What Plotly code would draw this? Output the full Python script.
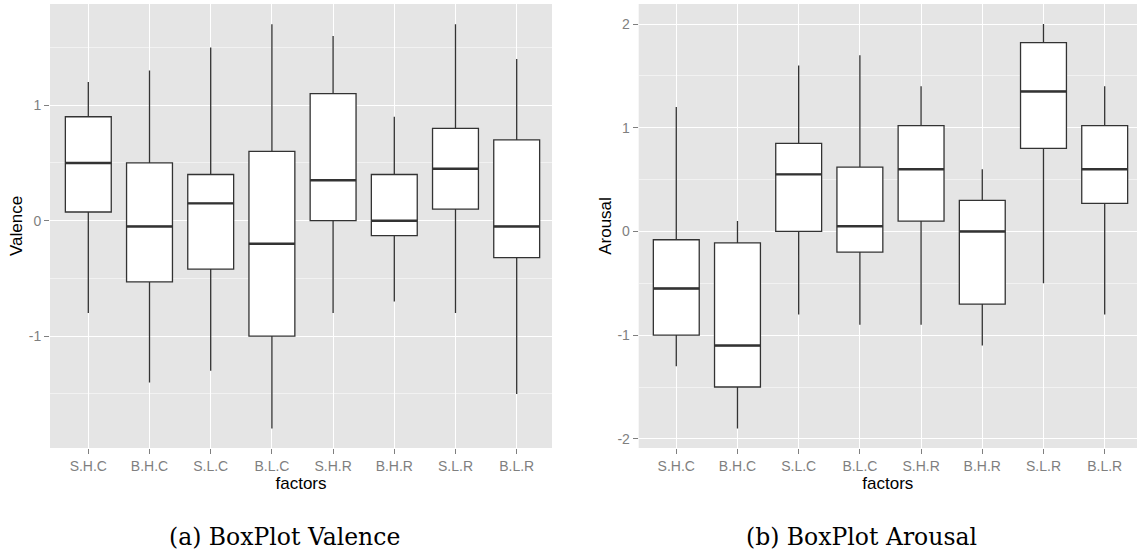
import plotly.graph_objects as go

categories = ["S.H.C", "B.H.C", "S.L.C", "B.L.C", "S.H.R", "B.H.R", "S.L.R", "B.L.R"]

val_low = [-0.8, -1.4, -1.3, -1.8, -0.8, -0.7, -0.8, -1.5]
val_q1 = [0.075, -0.53, -0.42, -1.0, 0.0, -0.13, 0.1, -0.32]
val_med = [0.5, -0.05, 0.15, -0.2, 0.35, 0.0, 0.45, -0.05]
val_q3 = [0.9, 0.5, 0.4, 0.6, 1.1, 0.4, 0.8, 0.7]
val_high = [1.2, 1.3, 1.5, 1.7, 1.6, 0.9, 1.7, 1.4]
val_tickvals = [-1, 0, 1]
val_ticktext = ["-1", "0", "1"]

aro_low = [-1.3, -1.9, -0.8, -0.9, -0.9, -1.1, -0.5, -0.8]
aro_q1 = [-1.0, -1.5, 0.0, -0.2, 0.1, -0.7, 0.8, 0.27]
aro_med = [-0.55, -1.1, 0.55, 0.05, 0.6, 0.0, 1.35, 0.6]
aro_q3 = [-0.08, -0.11, 0.85, 0.62, 1.02, 0.3, 1.82, 1.02]
aro_high = [1.2, 0.1, 1.6, 1.7, 1.4, 0.6, 2.0, 1.4]
aro_tickvals = [-2, -1, 0, 1, 2]
aro_ticktext = ["-2", "-1", "0", "1", "2"]

positions = list(range(len(categories)))
BOX_W = 0.75
LINE = "#333333"
GREY = "#7f7f7f"
SANS = "Liberation Sans, Arial"
W, H = 1137, 551

fig = go.Figure()


def add_panel(xa, ya, low, q1, med, q3, high):
    fig.add_trace(go.Box(
        x=positions, lowerfence=low, q1=q1, median=med, q3=q3, upperfence=high,
        width=BOX_W, whiskerwidth=0, fillcolor="white",
        line=dict(color=LINE, width=1.3), boxpoints=False,
        xaxis=xa, yaxis=ya, showlegend=False, hoverinfo="skip"))
    mx, my = [], []
    for p, m in zip(positions, med):
        mx += [p - BOX_W / 2, p + BOX_W / 2, None]
        my += [m, m, None]
    fig.add_trace(go.Scatter(x=mx, y=my, mode="lines", line=dict(color=LINE, width=2.4),
                             xaxis=xa, yaxis=ya, showlegend=False, hoverinfo="skip"))


add_panel("x", "y", val_low, val_q1, val_med, val_q3, val_high)
add_panel("x2", "y2", aro_low, aro_q1, aro_med, aro_q3, aro_high)

ytop = 1 - 4 / H
ybot = 1 - 448 / H

xcommon = dict(tickmode="array", tickvals=positions, ticktext=categories,
               showgrid=True, gridcolor="white", gridwidth=1, zeroline=False,
               ticks="outside", ticklen=5, tickcolor=GREY, tickwidth=1,
               tickfont=dict(family=SANS, size=14, color=GREY),
               title=dict(text="factors", font=dict(family=SANS, size=17, color="black"), standoff=2),
               showline=False, fixedrange=True, automargin=False)
ycommon = dict(tickmode="array", showgrid=True, gridcolor="white", gridwidth=1,
               zeroline=False, ticks="outside", ticklen=5, tickcolor=GREY, tickwidth=1,
               tickfont=dict(family=SANS, size=14, color=GREY),
               minor=dict(tickmode="linear", dtick=0.5, tick0=0, showgrid=True,
                          gridcolor="#f2f2f2", gridwidth=0.6, ticks=""),
               showline=False, fixedrange=True, automargin=False)

fig.update_layout(
    width=W, height=H,
    margin=dict(l=0, r=0, t=0, b=0),
    paper_bgcolor="white", plot_bgcolor="#e5e5e5",
    showlegend=False,
    xaxis=dict(xcommon, domain=[50 / W, 552 / W], range=[-0.626, 7.577], anchor="y"),
    yaxis=dict(ycommon, domain=[ybot, ytop], range=[-1.968, 1.876], anchor="x",
               tickvals=val_tickvals, ticktext=val_ticktext,
               title=dict(text="Valence", font=dict(family=SANS, size=17, color="black"), standoff=1)),
    xaxis2=dict(xcommon, domain=[638.7 / W, 1.0], range=[-0.614, 7.528], anchor="y2"),
    yaxis2=dict(ycommon, domain=[ybot, ytop], range=[-2.088, 2.193], anchor="x2",
                tickvals=aro_tickvals, ticktext=aro_ticktext,
                title=dict(text="Arousal", font=dict(family=SANS, size=17, color="black"), standoff=1)),
    annotations=[
        dict(text="(a) BoxPlot Valence", x=284 / W, y=1 - 537 / H, xref="paper", yref="paper",
             xanchor="center", yanchor="middle",
             showarrow=False, font=dict(family="DejaVu Serif", size=23.5, color="black")),
        dict(text="(b) BoxPlot Arousal", x=861 / W, y=1 - 537 / H, xref="paper", yref="paper",
             xanchor="center", yanchor="middle",
             showarrow=False, font=dict(family="DejaVu Serif", size=23.5, color="black")),
    ],
)

fig.write_html("out.html", config={"displayModeBar": False},
               post_script="document.body.style.margin='0';document.body.style.overflow='hidden';")
